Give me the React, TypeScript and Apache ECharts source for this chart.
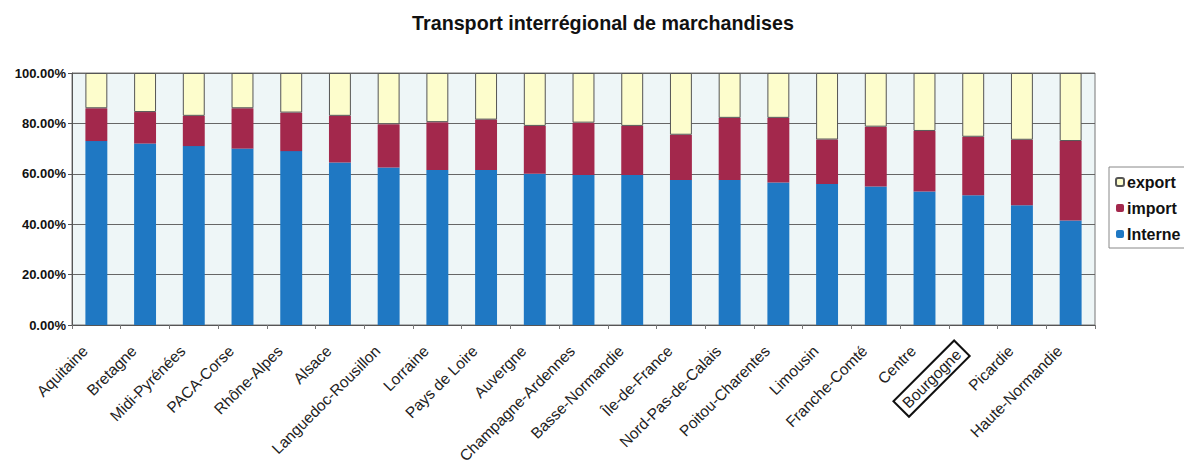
import React, { useEffect, useRef } from "react";
import * as echarts from "echarts";

const regions = [
  "Aquitaine", "Bretagne", "Midi-Pyrénées", "PACA-Corse", "Rhône-Alpes", "Alsace",
  "Languedoc-Rousillon", "Lorraine", "Pays de Loire", "Auvergne", "Champagne-Ardennes",
  "Basse-Normandie", "Île-de-France", "Nord-Pas-de-Calais", "Poitou-Charentes",
  "Limousin", "Franche-Comté", "Centre", "Bourgogne", "Picardie", "Haute-Normandie",
];
const interne = [73, 72, 71, 70, 69, 64.5, 62.5, 61.5, 61.5, 60, 59.5, 59.5, 57.5, 57.5, 56.5, 56, 55, 53, 51.5, 47.5, 41.5];
const importPct = [13, 12.5, 12, 16, 15.3, 18.5, 17.2, 19, 20, 19, 20.8, 19.5, 18, 24.7, 25.7, 17.6, 23.7, 24, 23.2, 26, 31.5];
const exportPct = [14, 15.5, 17, 14, 15.7, 17, 20.3, 19.5, 18.5, 21, 19.7, 21, 24.5, 17.8, 17.8, 26.4, 21.3, 23, 25.3, 26.5, 27];
const yTicks = [0, 20, 40, 60, 80, 100];

const FONT = "Liberation Sans, Arial, sans-serif";

export default function App() {
  const ref = useRef<HTMLDivElement>(null);
  useEffect(() => {
    if (!ref.current) return;
    const chart = echarts.init(ref.current, undefined, { renderer: "svg" });
    chart.setOption({
      animation: false,
      backgroundColor: "#ffffff",
      title: {
        text: "Transport interrégional de marchandises",
        left: 598,
        textAlign: "center",
        top: 8,
        textStyle: { fontFamily: FONT, fontSize: 19.7, fontWeight: "bold", color: "#111" },
      },
      legend: {
        orient: "vertical",
        left: 1109,
        top: 167,
        data: ["export", "import", "Interne"],
        itemWidth: 8,
        itemHeight: 8,
        itemGap: 10,
        padding: [7, 20, 6, 6],
        borderColor: "#888",
        borderWidth: 1,
        backgroundColor: "#fff",
        textStyle: { fontFamily: FONT, fontSize: 16, fontWeight: "bold", color: "#111", padding: [0, 0, 0, -2] },
      },
      grid: {
        left: 72,
        right: 97,
        top: 73,
        bottom: 145,
        show: true,
        backgroundColor: "#eef6f7",
        borderColor: "#777",
        borderWidth: 1,
      },
      xAxis: {
        type: "category",
        data: regions,
        axisLine: { lineStyle: { color: "#555" } },
        axisTick: { show: true, length: 4, lineStyle: { color: "#777" } },
        axisLabel: {
          interval: 0,
          rotate: 45,
          fontFamily: FONT,
          fontSize: 15.5,
          color: "#222",
          margin: 12,
          padding: [0, 16, 0, 0],
          formatter: (v: string) => (v === "Bourgogne" ? "{box|" + v + "}" : v),
          rich: {
            box: {
              fontFamily: FONT,
              fontSize: 15.5,
              color: "#222",
              borderColor: "#111",
              borderWidth: 2,
              padding: [3, 5, 3, 5],
            },
          },
        },
      },
      yAxis: {
        type: "value",
        min: 0,
        max: 100,
        interval: 20,
        axisLine: { show: true, lineStyle: { color: "#555" } },
        axisTick: { show: true, length: 4, lineStyle: { color: "#555" } },
        splitLine: { lineStyle: { color: "#666", width: 1 } },
        axisLabel: {
          fontFamily: FONT,
          fontSize: 13,
          fontWeight: "bold",
          color: "#111",
          margin: 6,
          formatter: (v: number) => (yTicks.includes(v) ? v.toFixed(2) + "%" : ""),
        },
      },
      series: [
        {
          name: "Interne",
          type: "bar",
          stack: "total",
          barWidth: "45%",
          data: interne,
          itemStyle: { color: "#1f78c3" },
        },
        {
          name: "import",
          type: "bar",
          stack: "total",
          barWidth: "45%",
          data: importPct,
          itemStyle: { color: "#a3284c" },
        },
        {
          name: "export",
          type: "bar",
          stack: "total",
          barWidth: "45%",
          data: exportPct,
          itemStyle: { color: "#fdfdcc", borderColor: "#555", borderWidth: 1 },
        },
      ],
    });
    return () => chart.dispose();
  }, []);
  return <div ref={ref} style={{ width: 1192, height: 470, margin: -8 }} />;
}
